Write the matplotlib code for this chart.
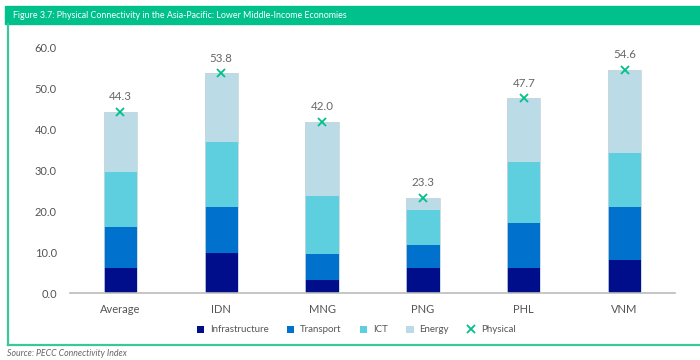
import numpy as np
import matplotlib
matplotlib.use('Agg')
import matplotlib.pyplot as plt
from matplotlib.lines import Line2D
from matplotlib.patches import Rectangle

# data
economies = ['Average', 'IDN', 'MNG', 'PNG', 'PHL', 'VNM']
infrastructure = [6.1, 9.9, 3.2, 6.1, 6.1, 8.1]
transport = [10.0, 11.2, 6.4, 5.7, 11.0, 13.0]
ict = [13.5, 15.9, 14.2, 8.5, 15.0, 13.1]
energy = [14.7, 16.8, 18.2, 3.0, 15.6, 20.4]
physical = [44.3, 53.8, 42.0, 23.3, 47.7, 54.6]
yticks = [0, 10, 20, 30, 40, 50, 60]

colors = ['#000e8c', '#0072ce', '#5ecfdf', '#bbdce6']
names = ['Infrastructure', 'Transport', 'ICT', 'Energy']
green = '#00c08b'
plt.rcParams['font.family'] = ['Lato', 'DejaVu Sans']

fig = plt.figure(figsize=(7, 3.6), dpi=100)

# frame: header band, left rule, bottom rule
fig.patches.append(Rectangle((5/700, 1-24/360), 1, 18/360, transform=fig.transFigure,
                             color=green, zorder=0))
fig.add_artist(Line2D([8/700, 8/700], [1-24/360, 1-345/360], color='#3cc79a', lw=1.6))
fig.add_artist(Line2D([8/700, 1], [1-345/360, 1-345/360], color='#3cc79a', lw=1.6))
fig.text(13/700, 1-15/360, 'Figure 3.7: Physical Connectivity in the Asia-Pacific: Lower Middle-Income Economies',
         color='white', fontsize=6.4, va='center', ha='left')
fig.text(7/700, 1-353/360, 'Source: PECC Connectivity Index', color='#666666',
         fontsize=6.3, style='italic', va='center', ha='left')

ax = fig.add_axes([70/700, 1-293/360, 605/700, 245/360])
x = np.arange(len(economies))
bottom = np.zeros(len(economies))
for vals, c, n in zip([infrastructure, transport, ict, energy], colors, names):
    ax.bar(x, vals, 0.33, bottom=bottom, color=c, label=n, zorder=2)
    bottom += np.array(vals)
# thin outline round the whole stack
ax.bar(x, bottom, 0.33, fill=False, edgecolor='#c9d6dc', lw=0.6, zorder=3)

ax.plot(x, physical, ls='none', marker='x', ms=6, mew=1.3, color=green, label='Physical', zorder=4)
for xi, v in zip(x, physical):
    ax.annotate('%.1f' % v, (xi, v), xytext=(0, 7), textcoords='offset points',
                ha='center', va='bottom', fontsize=8.3, color='#666666')

ax.set_xlim(-0.5, 5.5)
ax.set_ylim(0, 60)
ax.set_yticks(yticks)
ax.set_yticklabels(['%.1f' % t for t in yticks])
ax.set_xticks(x)
ax.set_xticklabels(economies)
ax.tick_params(axis='both', length=0, labelsize=8, labelcolor='#555555')
ax.tick_params(axis='y', pad=9.5)
ax.tick_params(axis='x', pad=8)
for s in ['top', 'right', 'left']:
    ax.spines[s].set_visible(False)
ax.spines['bottom'].set_color('#bbbbbb')
ax.spines['bottom'].set_linewidth(1.2)

h, l = ax.get_legend_handles_labels()
h = h[1:] + h[:1]
l = l[1:] + l[:1]
fig.legend(h, l, loc='center', bbox_to_anchor=(356/700, 1-330/360), ncol=5, frameon=False,
           fontsize=7, labelcolor='#555555', handlelength=0.75, handleheight=0.75,
           columnspacing=1.9, handletextpad=0.6)

fig.savefig('out.png', dpi=100)
